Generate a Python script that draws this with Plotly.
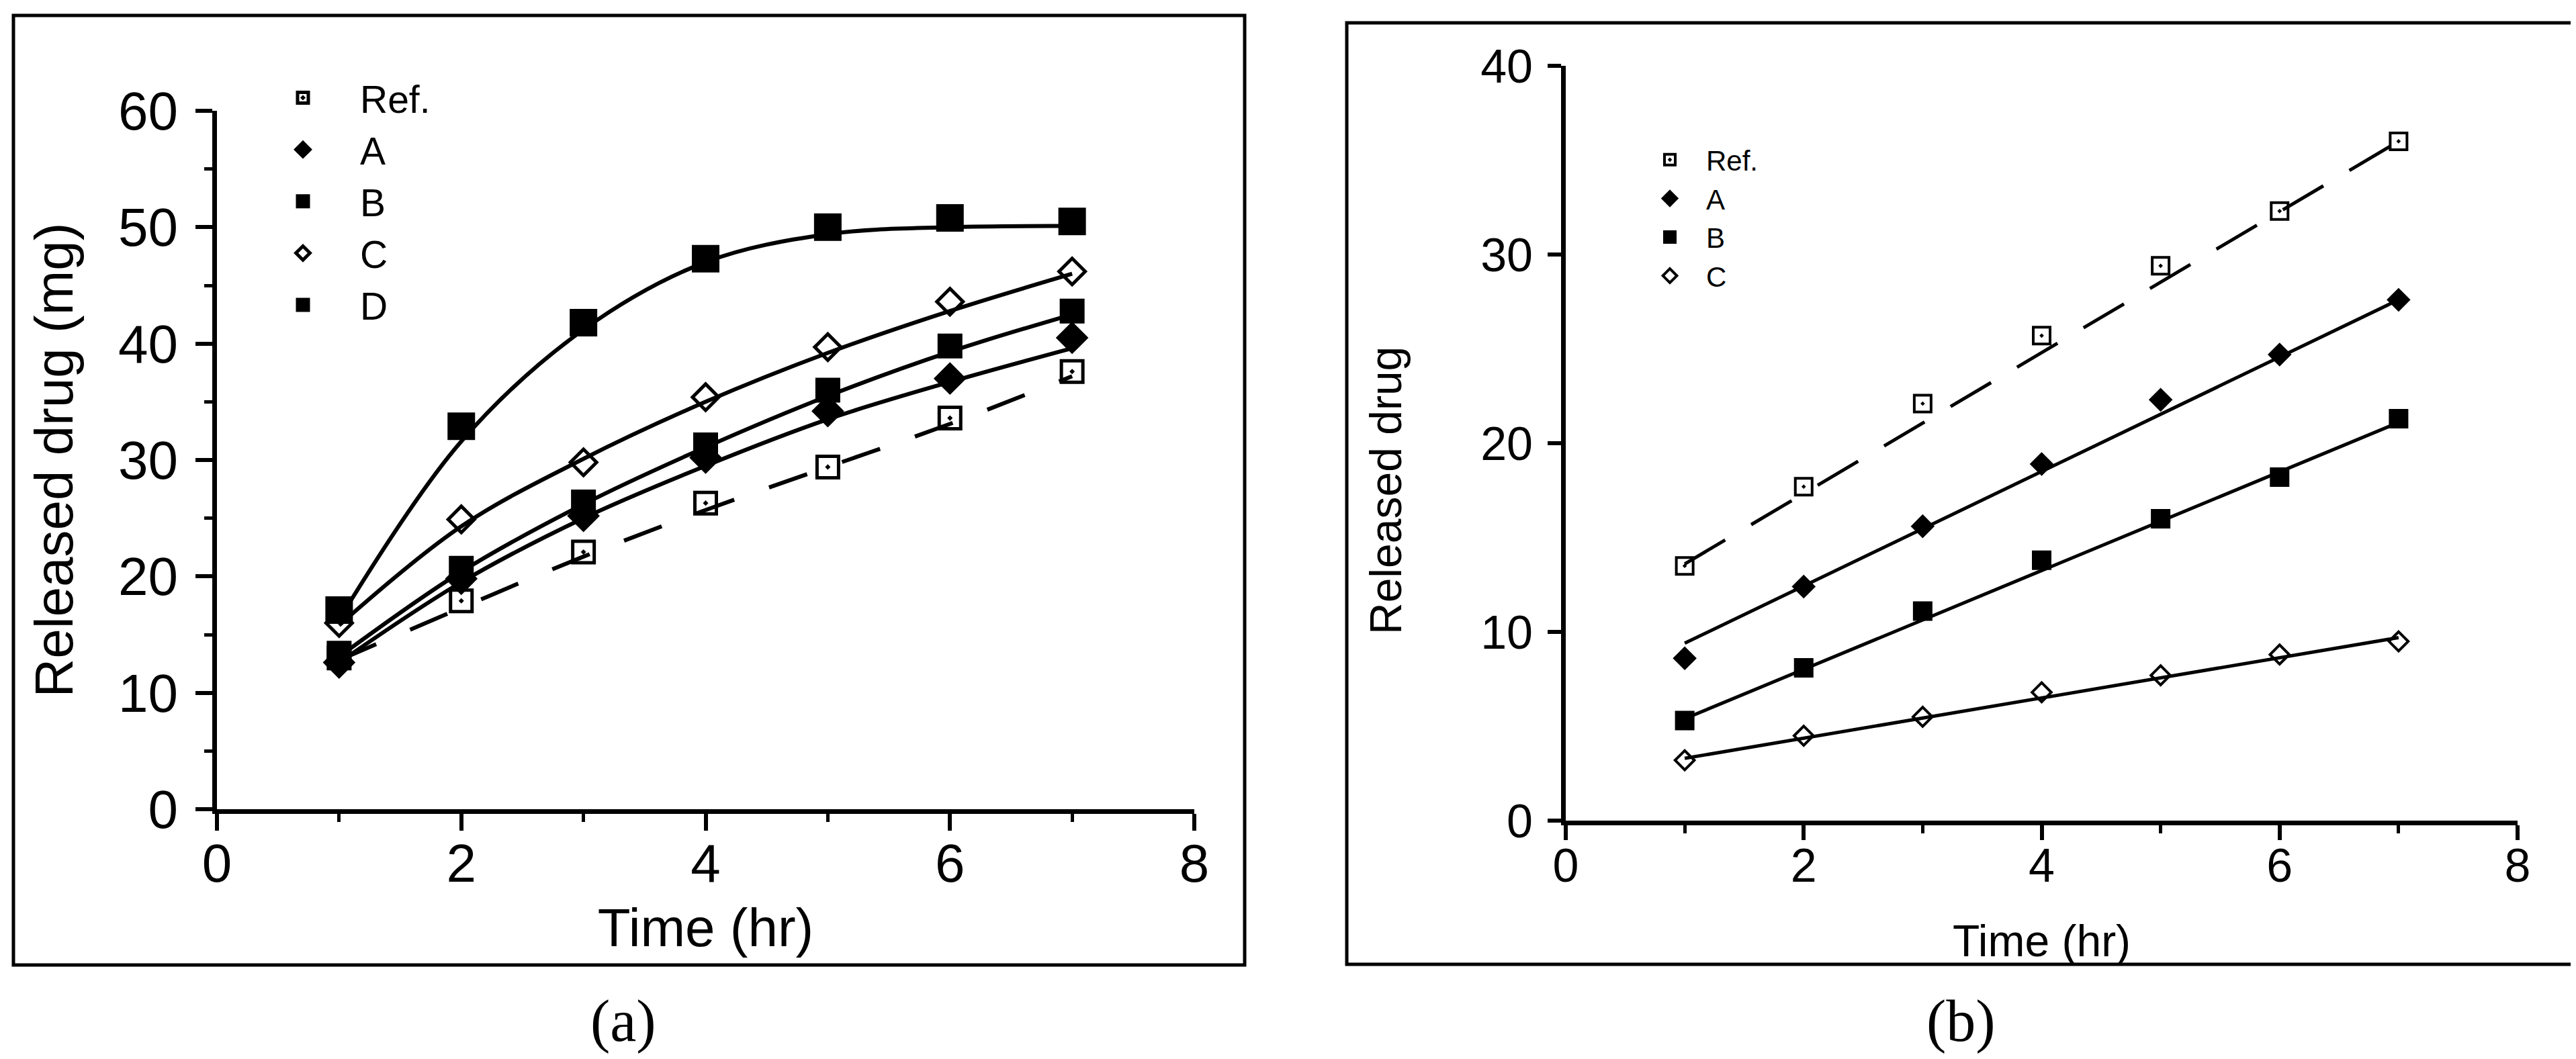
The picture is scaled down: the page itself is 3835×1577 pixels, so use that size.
import plotly.graph_objects as go

W, H = 3835, 1577

hours = [1, 2, 3, 4, 5, 6, 7]

# panel (a): measured release, mg
a_names = ["Ref.", "A", "B", "C", "D"]
a_ref = [13.0, 17.9, 22.1, 26.3, 29.4, 33.6, 37.6]
a_A = [12.6, 19.8, 25.2, 30.2, 34.2, 37.0, 40.5]
a_B = [13.4, 20.7, 26.4, 31.3, 36.0, 39.8, 42.8]
a_C = [16.0, 24.9, 29.8, 35.4, 39.7, 43.6, 46.2]
a_D = [17.1, 32.9, 41.8, 47.3, 50.0, 50.8, 50.5]
# panel (a): fitted curves
a_ref_fit = [12.8, 17.3, 21.7, 25.7, 29.4, 33.1, 37.2]
a_A_fit = [12.6, 19.5, 25.0, 29.5, 33.5, 36.7, 39.6]
a_B_fit = [13.1, 20.4, 26.2, 31.1, 35.5, 39.3, 42.5]
a_C_fit = [15.8, 24.3, 30.1, 35.0, 39.2, 42.8, 46.0]
a_D_fit = [16.3, 31.6, 41.2, 47.0, 49.4, 50.0, 50.1]

# panel (b): measured release
b_names = ["Ref.", "A", "B", "C"]
b_ref = [13.5, 17.7, 22.1, 25.7, 29.4, 32.3, 36.0]
b_A = [8.6, 12.4, 15.6, 18.9, 22.3, 24.7, 27.6]
b_B = [5.3, 8.1, 11.1, 13.8, 16.0, 18.2, 21.3]
b_C = [3.2, 4.5, 5.5, 6.8, 7.7, 8.8, 9.5]
# panel (b): straight-line fits (end points)
b_fit_x = [1, 7]
b_ref_fit = [13.6, 36.0]
b_A_fit = [9.4, 27.6]
b_B_fit = [5.4, 21.1]
b_C_fit = [3.3, 9.7]

SANS = "Liberation Sans, Arial, sans-serif"
SERIF = "Liberation Serif, Times New Roman, serif"

fig = go.Figure()

# ---- panel (a)
a_pts = [a_ref, a_A, a_B, a_C, a_D]
a_fits = [a_ref_fit, a_A_fit, a_B_fit, a_C_fit, a_D_fit]
a_sym = ["square-open-dot", "diamond", "square", "diamond-open", "square"]
a_size = [32, 32, 32, 30, 36]
for i, name in enumerate(a_names):
    fig.add_trace(go.Scatter(
        x=hours, y=a_fits[i], mode="lines", line_shape="spline",
        line=dict(color="black", width=6, dash="60px,55px" if name == "Ref." else "solid"),
        showlegend=False, xaxis="x", yaxis="y", hoverinfo="skip"))
for i, name in enumerate(a_names):
    fig.add_trace(go.Scatter(
        x=hours, y=a_pts[i], mode="markers", name=name,
        marker=dict(symbol=a_sym[i], size=a_size[i], color="black",
                    line=dict(color="black", width=5)),
        xaxis="x", yaxis="y", legend="legend"))

# ---- panel (b)
b_pts = [b_ref, b_A, b_B, b_C]
b_fits = [b_ref_fit, b_A_fit, b_B_fit, b_C_fit]
b_sym = ["square-open-dot", "diamond", "square", "diamond-open"]
b_size = [25, 23, 25, 22]
for i, name in enumerate(b_names):
    fig.add_trace(go.Scatter(
        x=b_fit_x, y=b_fits[i], mode="lines",
        line=dict(color="black", width=5, dash="70px,45px" if name == "Ref." else "solid"),
        showlegend=False, xaxis="x2", yaxis="y2", hoverinfo="skip"))
for i, name in enumerate(b_names):
    fig.add_trace(go.Scatter(
        x=hours, y=b_pts[i], mode="markers", name=name,
        marker=dict(symbol=b_sym[i], size=b_size[i], color="black",
                    line=dict(color="black", width=4)),
        xaxis="x2", yaxis="y2", legend="legend2"))

axis_common = dict(showgrid=False, zeroline=False, showline=True, linecolor="black",
                   linewidth=7, ticks="outside", tickcolor="black", tickwidth=6,
                   color="black", automargin=False)

fig.update_layout(
    width=W, height=H, autosize=False,
    margin=dict(l=0, r=0, t=0, b=0, pad=0, autoexpand=False),
    paper_bgcolor="white", plot_bgcolor="white",
    font=dict(family=SANS, color="black"),
    xaxis=dict(axis_common, domain=[315 / W, 1770 / W], anchor="y", range=[0, 8],
               dtick=2, ticklen=25, tickfont=dict(size=80), ticklabelstandoff=-20,
               minor=dict(dtick=1, ticks="outside", ticklen=12, tickwidth=5, tickcolor="black"),
               title=dict(text="Time (hr)", font=dict(size=80), standoff=26)),
    yaxis=dict(axis_common, domain=[1 - 1197 / H, 1 - 157 / H], anchor="x", range=[0, 60],
               dtick=10, ticklen=25, tickfont=dict(size=80), ticklabelstandoff=10,
               minor=dict(dtick=5, ticks="outside", ticklen=12, tickwidth=5, tickcolor="black"),
               title=dict(text="Released drug (mg)", font=dict(size=80), standoff=44)),
    xaxis2=dict(axis_common, domain=[2323 / W, 3740 / W], anchor="y2", range=[0, 8],
                dtick=2, ticklen=22, tickfont=dict(size=70), ticklabelstandoff=-22,
                minor=dict(dtick=1, ticks="outside", ticklen=12, tickwidth=5, tickcolor="black"),
                title=dict(text="Time (hr)", font=dict(size=66), standoff=53)),
    yaxis2=dict(axis_common, domain=[1 - 1214 / H, 1 - 90 / H], anchor="x2", range=[0, 40],
                dtick=10, ticklen=20, tickfont=dict(size=70), ticklabelstandoff=8),
    legend=dict(x=358 / W, y=1 - 94 / H, xanchor="left", yanchor="top",
                bgcolor="rgba(0,0,0,0)", borderwidth=0, itemwidth=160,
                font=dict(size=57, family=SANS), traceorder="normal"),
    legend2=dict(x=2424 / W, y=1 - 196 / H, xanchor="left", yanchor="top",
                 bgcolor="rgba(0,0,0,0)", borderwidth=0, itemwidth=98,
                 font=dict(size=42, family=SANS), traceorder="normal"),
    shapes=[
        dict(type="rect", xref="paper", yref="paper", x0=12 / W, x1=1845 / W,
             y0=1 - 1429 / H, y1=1 - 15 / H, line=dict(color="black", width=5)),
        dict(type="rect", xref="paper", yref="paper", x0=1997 / W, x1=3829 / W,
             y0=1 - 1428 / H, y1=1 - 26 / H, line=dict(color="black", width=5)),
    ],
    annotations=[
        dict(text="Released drug", xref="paper", yref="paper", x=2055 / W, y=1 - 723 / H,
             xanchor="center", yanchor="middle", textangle=-90, showarrow=False,
             font=dict(family=SANS, size=66, color="black")),
        dict(text="(a)", xref="paper", yref="paper", x=920 / W, y=1 - 1512 / H,
             xanchor="center", yanchor="middle", showarrow=False,
             font=dict(family=SERIF, size=88, color="black")),
        dict(text="(b)", xref="paper", yref="paper", x=2911 / W, y=1 - 1512 / H,
             xanchor="center", yanchor="middle", showarrow=False,
             font=dict(family=SERIF, size=88, color="black")),
    ],
)

fig.write_html("out.html")
